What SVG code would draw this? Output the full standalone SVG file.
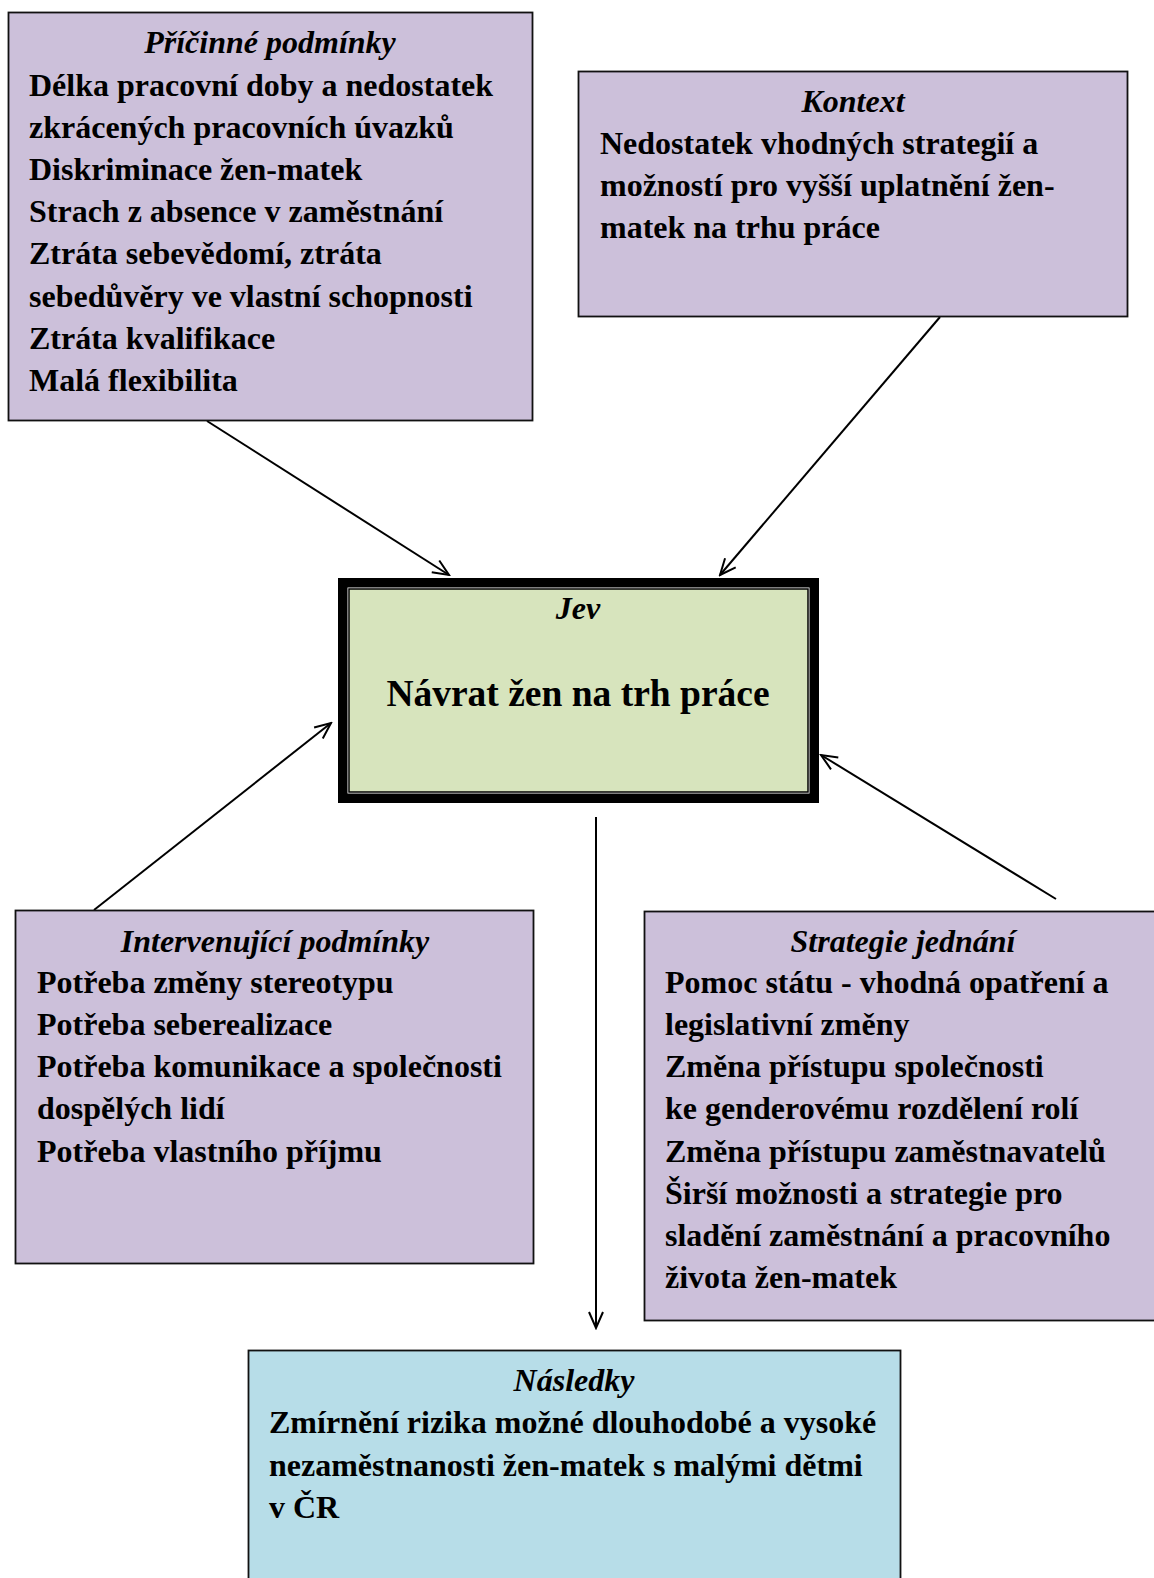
<svg xmlns="http://www.w3.org/2000/svg" width="1154" height="1578" viewBox="0 0 1154 1578">
<style>
.box{fill:#ccc0da;stroke:#111;stroke-width:1.8}
.blue{fill:#b7dde8;stroke:#111;stroke-width:1.8}
.t{font-family:"Liberation Serif","Times New Roman",serif;font-size:32px;font-weight:bold;fill:#000}
.h{font-family:"Liberation Serif","Times New Roman",serif;font-size:32px;font-weight:bold;font-style:italic;fill:#000;text-anchor:middle}
.big{font-family:"Liberation Serif","Times New Roman",serif;font-size:37.5px;font-weight:bold;fill:#000;text-anchor:middle}
.c{stroke:#000;stroke-width:2;fill:none}
</style>
<defs>
<marker id="ah" viewBox="0 0 20 20" refX="18" refY="10" markerWidth="20" markerHeight="20" markerUnits="userSpaceOnUse" orient="auto">
<path d="M2,3 L18,10 L2,17" fill="none" stroke="#000" stroke-width="2"/>
</marker>
</defs>
<rect width="1154" height="1578" fill="#fff"/>
<g id="connectors">
<line class="c" x1="207" y1="421" x2="449" y2="575" marker-end="url(#ah)"/>
<line class="c" x1="940" y1="317" x2="720" y2="575" marker-end="url(#ah)"/>
<line class="c" x1="94" y1="910" x2="331" y2="723" marker-end="url(#ah)"/>
<line class="c" x1="1056" y1="899" x2="821" y2="755" marker-end="url(#ah)"/>
<line class="c" x1="596" y1="817" x2="596" y2="1328" marker-end="url(#ah)"/>
</g>
<g id="pricinne">
<rect class="box" x="8.5" y="12.5" width="524" height="408"/>
<text class="h" x="270" y="53">Příčinné podmínky</text>
<text class="t" x="29" y="96">Délka pracovní doby a nedostatek</text>
<text class="t" x="29" y="138">zkrácených pracovních úvazků</text>
<text class="t" x="29" y="180">Diskriminace žen-matek</text>
<text class="t" x="29" y="222">Strach z absence v zaměstnání</text>
<text class="t" x="29" y="264">Ztráta sebevědomí, ztráta</text>
<text class="t" x="29" y="307">sebedůvěry ve vlastní schopnosti</text>
<text class="t" x="29" y="349">Ztráta kvalifikace</text>
<text class="t" x="29" y="391">Malá flexibilita</text>
</g>
<g id="kontext">
<rect class="box" x="578.5" y="71.5" width="549" height="245"/>
<text class="h" x="853" y="112">Kontext</text>
<text class="t" x="600" y="154">Nedostatek vhodných strategií a</text>
<text class="t" x="600" y="196">možností pro vyšší uplatnění žen-</text>
<text class="t" x="600" y="238">matek na trhu práce</text>
</g>
<g id="jev">
<rect x="342.5" y="582.5" width="472" height="216" fill="#000" stroke="#000" stroke-width="9"/>
<rect x="347.5" y="587.5" width="462" height="206" fill="#fff"/>
<rect x="349" y="589" width="459" height="203" fill="#d7e4bd" stroke="#000" stroke-width="1.5"/>
<text class="h" x="578" y="619">Jev</text>
<text class="big" x="578" y="706">Návrat žen na trh práce</text>
</g>
<g id="intervenujici">
<rect class="box" x="15.5" y="910.5" width="518" height="353"/>
<text class="h" x="275" y="952">Intervenující podmínky</text>
<text class="t" x="37" y="993">Potřeba změny stereotypu</text>
<text class="t" x="37" y="1035">Potřeba seberealizace</text>
<text class="t" x="37" y="1077">Potřeba komunikace a společnosti</text>
<text class="t" x="37" y="1119">dospělých lidí</text>
<text class="t" x="37" y="1162">Potřeba vlastního příjmu</text>
</g>
<g id="strategie">
<rect class="box" x="644.5" y="911.5" width="520" height="409"/>
<text class="h" x="903" y="952">Strategie jednání</text>
<text class="t" x="665" y="993">Pomoc státu - vhodná opatření a</text>
<text class="t" x="665" y="1035">legislativní změny</text>
<text class="t" x="665" y="1077">Změna přístupu společnosti</text>
<text class="t" x="665" y="1119">ke genderovému rozdělení rolí</text>
<text class="t" x="665" y="1162">Změna přístupu zaměstnavatelů</text>
<text class="t" x="665" y="1204">Širší možnosti a strategie pro</text>
<text class="t" x="665" y="1246">sladění zaměstnání a pracovního</text>
<text class="t" x="665" y="1288">života žen-matek</text>
</g>
<g id="nasledky">
<rect class="blue" x="248.5" y="1350.5" width="652" height="240"/>
<text class="h" x="574" y="1391">Následky</text>
<text class="t" x="269" y="1433">Zmírnění rizika možné dlouhodobé a vysoké</text>
<text class="t" x="269" y="1476">nezaměstnanosti žen-matek s malými dětmi</text>
<text class="t" x="269" y="1518">v ČR</text>
</g>
</svg>
